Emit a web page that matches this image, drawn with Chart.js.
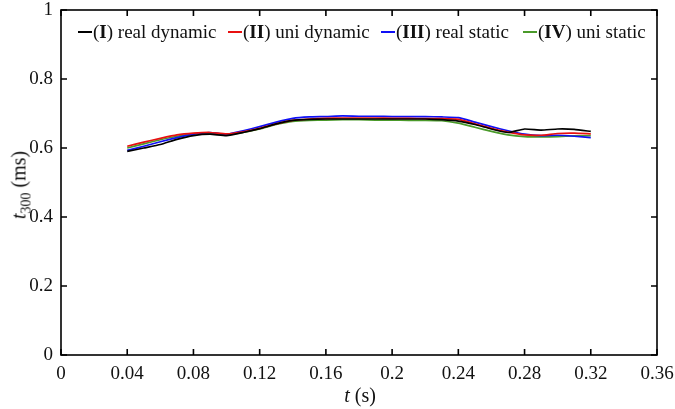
<!DOCTYPE html>
<html lang="en">
<head>
<meta charset="UTF-8">
<title>t300 vs t</title>
<script src="https://cdn.jsdelivr.net/npm/chart.js"></script>
<style>
    body { margin: 0; background: #fff; }
    #wrap { position: relative; width: 675px; height: 409px; font-family: "Liberation Serif", serif; color: #111; }
    #legend { position: absolute; top: 21px; left: 0; width: 675px; height: 22px; font-size: 19px; line-height: 22px; }
    .item { position: absolute; top: 0; white-space: nowrap; }
    .item i { position: absolute; top: 10px; width: 14px; height: 2px; }
    #xtitle { position: absolute; left: 310px; width: 100px; top: 384px; text-align: center; font-size: 20px; line-height: 22px; }
    #ytitle { position: absolute; left: 21px; top: 185px; font-size: 20px; white-space: nowrap; transform: translate(-50%, -50%) rotate(-90deg); }
    sub { font-size: 14px; }
</style>
</head>
<body>
<div id="wrap">
    <canvas id="c" width="675" height="409"></canvas>
    <div id="legend"></div>
    <div id="xtitle"><i>t</i> (s)</div>
    <div id="ytitle"><i>t</i><sub>300</sub> (ms)</div>
</div>
<script>
const tValues = [0.04, 0.05, 0.06, 0.07, 0.08, 0.09, 0.10, 0.11, 0.12, 0.13, 0.14, 0.15, 0.16, 0.17, 0.18,
                 0.19, 0.20, 0.21, 0.22, 0.23, 0.24, 0.25, 0.26, 0.27, 0.28, 0.29, 0.30, 0.31, 0.32];

const realDynamic = [0.590, 0.600, 0.610, 0.625, 0.636, 0.640, 0.636, 0.645, 0.656, 0.670, 0.680, 0.683, 0.684, 0.684, 0.684,
                     0.684, 0.684, 0.684, 0.684, 0.682, 0.678, 0.668, 0.655, 0.645, 0.655, 0.652, 0.655, 0.654, 0.648];
const uniDynamic  = [0.605, 0.617, 0.628, 0.638, 0.643, 0.645, 0.641, 0.647, 0.657, 0.670, 0.680, 0.684, 0.686, 0.687, 0.687,
                     0.687, 0.686, 0.686, 0.685, 0.685, 0.683, 0.670, 0.657, 0.646, 0.638, 0.637, 0.642, 0.643, 0.641];
const realStatic  = [0.593, 0.605, 0.618, 0.630, 0.640, 0.645, 0.640, 0.650, 0.662, 0.675, 0.686, 0.690, 0.691, 0.693, 0.692,
                     0.692, 0.691, 0.691, 0.691, 0.690, 0.688, 0.675, 0.662, 0.650, 0.640, 0.636, 0.637, 0.634, 0.630];
const uniStatic   = [0.600, 0.612, 0.624, 0.634, 0.641, 0.644, 0.639, 0.645, 0.655, 0.668, 0.677, 0.680, 0.681, 0.682, 0.682,
                     0.681, 0.681, 0.680, 0.680, 0.679, 0.672, 0.660, 0.648, 0.638, 0.633, 0.632, 0.633, 0.635, 0.636];

const seriesNames = ['I', 'II', 'III', 'IV'];
const seriesLabels = ['real dynamic', 'uni dynamic', 'real static', 'uni static'];
const xTicks = [0, 0.04, 0.08, 0.12, 0.16, 0.2, 0.24, 0.28, 0.32, 0.36];
const yTicks = [0, 0.2, 0.4, 0.6, 0.8, 1];

const colors = ['#000000', '#e81010', '#1010f5', '#4a9a2a'];
const legendX = [78, 228, 381, 523];
const allSeries = [realDynamic, uniDynamic, realStatic, uniStatic];

const datasets = allSeries.map((vals, i) => ({
    label: '(' + seriesNames[i] + ') ' + seriesLabels[i],
    data: tValues.map((t, k) => ({ x: t, y: vals[k] })),
    borderColor: colors[i],
    borderWidth: 1.7,
    pointRadius: 0,
    showLine: true,
    tension: 0.15,
    fill: false
}));

// legend as html text
const legend = document.getElementById('legend');
seriesNames.forEach((n, i) => {
    const d = document.createElement('div');
    d.className = 'item';
    d.style.left = legendX[i] + 'px';
    d.style.paddingLeft = '15px';
    d.innerHTML = '<i style="left:0;background:' + colors[i] + '"></i>(<b>' + n + '</b>) ' + seriesLabels[i];
    legend.appendChild(d);
});

// box + inward ticks on all four sides
const frame = {
    id: 'frame',
    afterDraw(chart) {
        const { ctx, chartArea: a, scales } = chart;
        ctx.save();
        ctx.strokeStyle = '#000';
        ctx.lineWidth = 1.6;
        ctx.strokeRect(a.left, a.top, a.right - a.left, a.bottom - a.top);
        ctx.beginPath();
        xTicks.forEach(v => {
            const px = scales.x.getPixelForValue(v);
            ctx.moveTo(px, a.bottom); ctx.lineTo(px, a.bottom - 6);
            ctx.moveTo(px, a.top); ctx.lineTo(px, a.top + 6);
        });
        yTicks.forEach(v => {
            const py = scales.y.getPixelForValue(v);
            ctx.moveTo(a.left, py); ctx.lineTo(a.left + 6, py);
            ctx.moveTo(a.right, py); ctx.lineTo(a.right - 6, py);
        });
        ctx.stroke();
        ctx.restore();
    }
};

new Chart(document.getElementById('c'), {
    type: 'scatter',
    data: { datasets },
    options: {
        responsive: false,
        animation: false,
        layout: { padding: { top: 10, right: 18, bottom: 0, left: 0 } },
        plugins: { legend: { display: false }, tooltip: { enabled: false } },
        scales: {
            x: {
                type: 'linear', min: 0, max: 0.36,
                afterBuildTicks: s => { s.ticks = xTicks.map(v => ({ value: v })); },
                afterFit: s => { s.height = 54; s.paddingLeft = 0; s.paddingRight = 0; },
                grid: { display: false, drawTicks: false },
                border: { display: false },
                ticks: { color: '#111', padding: 8, maxRotation: 0, autoSkip: false,
                         font: { family: 'Liberation Serif', size: 19 },
                         callback: v => String(+v.toFixed(2)) }
            },
            y: {
                min: 0, max: 1,
                afterBuildTicks: s => { s.ticks = yTicks.map(v => ({ value: v })); },
                afterFit: s => { s.width = 61; s.paddingTop = 0; s.paddingBottom = 0; },
                grid: { display: false, drawTicks: false },
                border: { display: false },
                ticks: { color: '#111', padding: 8,
                         font: { family: 'Liberation Serif', size: 19 },
                         callback: v => String(+v.toFixed(1)) }
            }
        }
    },
    plugins: [frame]
});
</script>
</body>
</html>
